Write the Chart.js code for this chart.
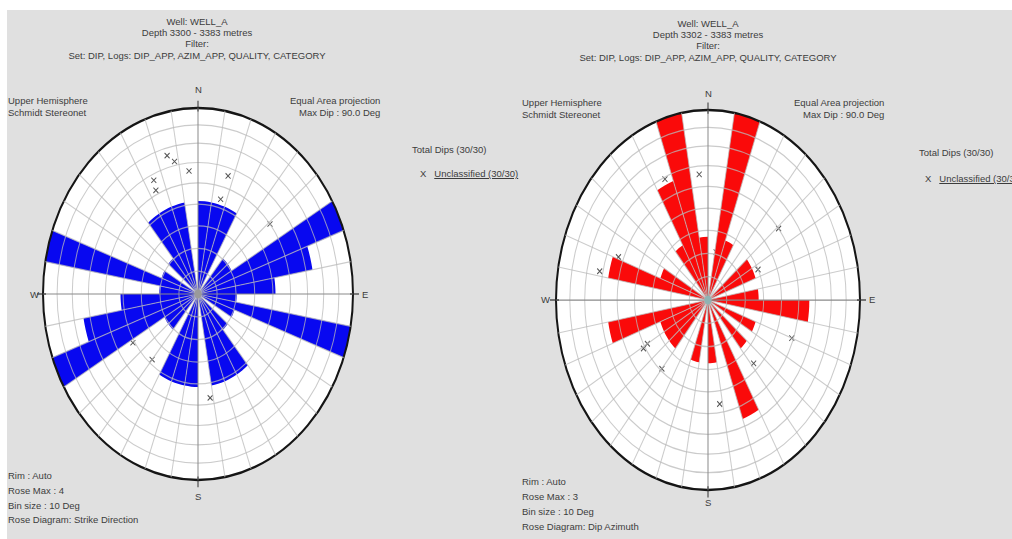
<!DOCTYPE html>
<html>
<head>
<meta charset="utf-8">
<script src="https://cdn.jsdelivr.net/npm/chart.js@4"></script>
<style>
  body { margin: 0; background: #fff; width: 1012px; height: 539px; overflow: hidden; position: relative; font-family: 'Liberation Sans', Arial, sans-serif; }
  #panel { position: absolute; left: 7px; top: 10px; width: 1005px; height: 529px; background: #e0e0e0; }
  .t { position: absolute; font-size: 9.5px; color: #3c3c3c; white-space: nowrap; line-height: 11px; }
  .c { text-align: center; }
  .u { text-decoration: underline; }
  canvas { position: absolute; }
</style>
</head>
<body>
<div id="panel"></div>

<!-- left stereonet texts -->
<div class="t c" style="left:47px;width:300px;top:16px;">Well: WELL_A</div>
<div class="t c" style="left:47px;width:300px;top:27px;">Depth 3300 - 3383 metres</div>
<div class="t c" style="left:47px;width:300px;top:38px;">Filter:</div>
<div class="t c" style="left:47px;width:300px;top:50px;">Set: DIP, Logs: DIP_APP, AZIM_APP, QUALITY, CATEGORY</div>
<div class="t" style="left:8px;top:95px;">Upper Hemisphere</div>
<div class="t" style="left:8px;top:107px;">Schmidt Stereonet</div>
<div class="t" style="left:290px;top:95px;">Equal Area projection</div>
<div class="t" style="left:299px;top:107px;">Max Dip : 90.0 Deg</div>
<div class="t" style="left:412px;top:144px;">Total Dips (30/30)</div>
<div class="t" style="left:420px;top:168px;">X&nbsp;&nbsp;&nbsp;<span class="u">Unclassified (30/30)</span></div>
<div class="t" style="left:8px;top:470px;">Rim : Auto</div>
<div class="t" style="left:8px;top:485px;">Rose Max : 4</div>
<div class="t" style="left:8px;top:500px;">Bin size : 10 Deg</div>
<div class="t" style="left:8px;top:514px;">Rose Diagram: Strike Direction</div>
<div class="t" style="left:195px;top:84px;">N</div>
<div class="t" style="left:195px;top:491px;">S</div>
<div class="t" style="left:30px;top:289px;">W</div>
<div class="t" style="left:362px;top:289px;">E</div>

<!-- right stereonet texts -->
<div class="t c" style="left:558px;width:300px;top:18px;">Well: WELL_A</div>
<div class="t c" style="left:558px;width:300px;top:29px;">Depth 3302 - 3383 metres</div>
<div class="t c" style="left:558px;width:300px;top:40px;">Filter:</div>
<div class="t c" style="left:558px;width:300px;top:52px;">Set: DIP, Logs: DIP_APP, AZIM_APP, QUALITY, CATEGORY</div>
<div class="t" style="left:522px;top:97px;">Upper Hemisphere</div>
<div class="t" style="left:522px;top:109px;">Schmidt Stereonet</div>
<div class="t" style="left:794px;top:97px;">Equal Area projection</div>
<div class="t" style="left:803px;top:109px;">Max Dip : 90.0 Deg</div>
<div class="t" style="left:919px;top:147px;">Total Dips (30/30)</div>
<div class="t" style="left:925px;top:173px;">X&nbsp;&nbsp;&nbsp;<span class="u">Unclassified (30/30)</span></div>
<div class="t" style="left:522px;top:476px;">Rim : Auto</div>
<div class="t" style="left:522px;top:491px;">Rose Max : 3</div>
<div class="t" style="left:522px;top:506px;">Bin size : 10 Deg</div>
<div class="t" style="left:522px;top:521px;">Rose Diagram: Dip Azimuth</div>
<div class="t" style="left:705px;top:88px;">N</div>
<div class="t" style="left:705px;top:497px;">S</div>
<div class="t" style="left:541px;top:294px;">W</div>
<div class="t" style="left:869px;top:294px;">E</div>

<canvas id="strikeRose" width="330" height="400" style="left:33px;top:94px;"></canvas>
<canvas id="dipRose" width="324" height="400" style="left:546px;top:100px;"></canvas>

<script>
// 10 degree bins, clockwise from north
const binLabels = [
  '0-10', '10-20', '20-30', '30-40', '40-50', '50-60', '60-70', '70-80', '80-90',
  '90-100', '100-110', '110-120', '120-130', '130-140', '140-150', '150-160', '160-170', '170-180',
  '180-190', '190-200', '200-210', '210-220', '220-230', '230-240', '240-250', '250-260', '260-270',
  '270-280', '280-290', '290-300', '300-310', '310-320', '320-330', '330-340', '340-350', '350-360'
];

// left rose: strike direction (bidirectional), rose max 4
const strikeCounts = [
  2, 2, 2, 0, 1, 1, 4, 3, 2,
  1, 4, 1, 0, 1, 2, 2, 2, 0,
  2, 2, 2, 0, 1, 1, 4, 3, 2,
  1, 4, 1, 0, 1, 2, 2, 2, 0
];

// right rose: dip azimuth, rose max 3
const dipAzimuthCounts = [
  0, 3, 1, 0, 0, 1, 1, 0, 1,
  2, 0, 1, 0, 1, 0, 2, 0, 1,
  0, 1, 0, 0, 1, 1, 1, 2, 0,
  0, 2, 1, 0, 0, 1, 2, 3, 1
];

const strikeRoseMax = 4;
const dipRoseMax = 3;

// stereonet rings (dip, deg)
const dipRings = [10, 20, 30, 40, 50, 60, 70, 80, 90];

// plotted dips [azimuth, dip]
const leftPoles = [
  [348, 62], [345, 66], [335, 57], [334, 52], [355, 56], [17, 56],
  [16, 44], [51, 50], [172, 47], [220, 38], [238, 41], [99, 16]
];
const rightPoles = [
  [355, 56], [336, 59], [51, 50], [282, 62], [291, 53], [64, 30], [110, 49],
  [138, 37], [240, 38], [239, 41], [220, 39], [172, 46], [12, 21]
];

const toRad = (d) => d * Math.PI / 180;
const gridGray = 'rgba(185,185,185,0.75)';

// draws the net as an ellipse (stretched vertically), white disc, poles, centre dot
const stereonetPlugin = {
  id: 'stereonet',
  beforeDraw(chart, args, opts) {
    const r = chart.scales.r;
    const ctx = chart.ctx;
    ctx.save();
    ctx.translate(r.xCenter, r.yCenter);
    ctx.scale(1, opts.k);
    ctx.translate(-r.xCenter, -r.yCenter);
    ctx.beginPath();
    ctx.arc(r.xCenter, r.yCenter, r.drawingArea, 0, Math.PI * 2);
    ctx.fillStyle = '#fff';
    ctx.fill();
  },
  beforeDatasetsDraw(chart, args, opts) {
    const r = chart.scales.r;
    const ctx = chart.ctx;
    ctx.save();
    ctx.strokeStyle = '#555';
    ctx.lineWidth = 0.9;
    opts.poles.forEach(([az, dip]) => {
      const f = Math.SQRT2 * Math.sin(toRad(dip) / 2);
      const x = r.xCenter + f * r.drawingArea * Math.sin(toRad(az));
      const y = r.yCenter - f * r.drawingArea * Math.cos(toRad(az));
      ctx.beginPath();
      ctx.moveTo(x - 2.5, y - 2.2);
      ctx.lineTo(x + 2.5, y + 2.2);
      ctx.moveTo(x + 2.5, y - 2.2);
      ctx.lineTo(x - 2.5, y + 2.2);
      ctx.stroke();
    });
    ctx.restore();
  },
  afterDraw(chart, args, opts) {
    const r = chart.scales.r;
    const ctx = chart.ctx;
    // axis ticks outside the rim
    ctx.strokeStyle = '#333';
    ctx.lineWidth = 1;
    [0, 90, 180, 270].forEach((a) => {
      const sx = Math.sin(toRad(a)), cy = -Math.cos(toRad(a));
      ctx.beginPath();
      ctx.moveTo(r.xCenter + sx * (r.drawingArea - 3), r.yCenter + cy * (r.drawingArea - 3));
      ctx.lineTo(r.xCenter + sx * (r.drawingArea + 6), r.yCenter + cy * (r.drawingArea + 6));
      ctx.stroke();
    });
    ctx.beginPath();
    ctx.arc(r.xCenter, r.yCenter, 3.5, 0, Math.PI * 2);
    ctx.fillStyle = opts.dot;
    ctx.fill();
    ctx.restore();
  }
};

function makeRose(canvasId, counts, roseMax, color, k, poles, dot) {
  const config = {
    type: 'polarArea',
    data: {
      labels: binLabels,
      datasets: [{
        data: counts,
        backgroundColor: color,
        borderWidth: 0
      }]
    },
    options: {
      responsive: false,
      animation: false,
      layout: { padding: 10 },
      plugins: {
        legend: { display: false },
        tooltip: { enabled: false },
        stereonet: { k: k, poles: poles, dot: dot }
      },
      scales: {
        r: {
          min: 0,
          max: roseMax,
          ticks: { display: false },
          pointLabels: { display: false },
          afterBuildTicks: (scale) => {
            scale.ticks = [0, ...dipRings].map((d) => ({
              value: roseMax * Math.SQRT2 * Math.sin(toRad(d) / 2)
            }));
          },
          grid: {
            circular: true,
            z: 1,
            color: (ctx) => (ctx.index === dipRings.length ? '#151515' : gridGray),
            lineWidth: (ctx) => (ctx.index === dipRings.length ? 2 : 1)
          },
          angleLines: {
            display: true,
            color: (ctx) => (ctx.index % 9 === 0 ? '#8a8a8a' : gridGray),
            lineWidth: 1
          }
        }
      }
    },
    plugins: [stereonetPlugin]
  };
  return new Chart(document.getElementById(canvasId), config);
}

makeRose('strikeRose', strikeCounts, strikeRoseMax, 'rgb(8,8,240)', 1.2, leftPoles, '#9a9a9a');
makeRose('dipRose', dipAzimuthCounts, dipRoseMax, 'rgb(250,10,10)', 1.25, rightPoles, '#8fb3b3');
</script>
</body>
</html>
